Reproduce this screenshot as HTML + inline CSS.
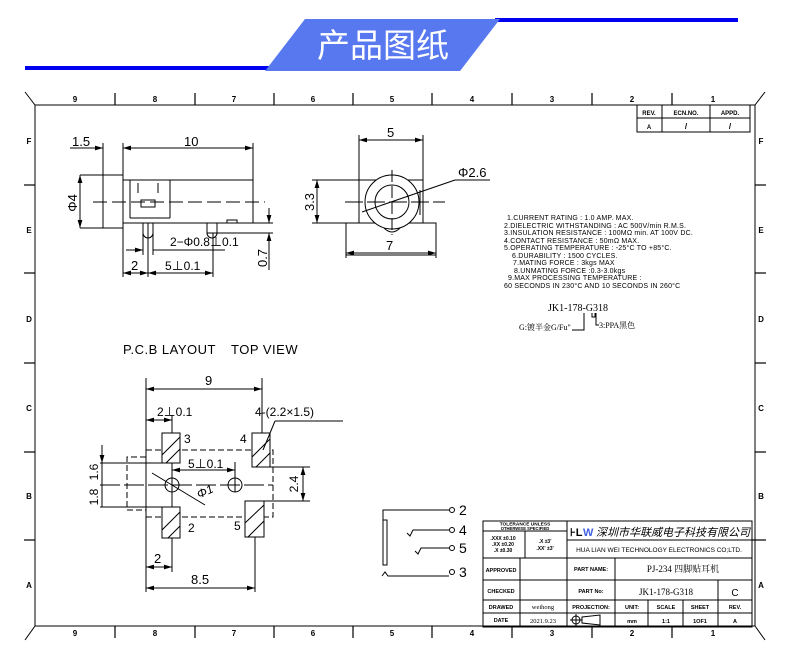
<!DOCTYPE html>
<html><head><meta charset="utf-8"><style>
html,body{margin:0;padding:0;background:#fff;}
svg{display:block;}
text{font-family:"Liberation Sans","Noto Sans CJK SC",sans-serif;fill:#000;}
.s{font-family:"Liberation Serif","Noto Serif CJK SC",serif;}
</style></head><body>
<svg width="790" height="663" viewBox="0 0 790 663" xmlns="http://www.w3.org/2000/svg">
<defs>
<marker id="a" viewBox="0 0 10 6" refX="10" refY="3" markerWidth="8" markerHeight="5" orient="auto-start-reverse"><path d="M0,0 L10,3 L0,6 z" fill="#000"/></marker>
</defs>
<!-- banner -->
<rect x="25" y="66" width="245" height="4" fill="#0000f0"/>
<rect x="495" y="18" width="243" height="4" fill="#0000f0"/>
<polygon points="305,19 500,19 460,71 265,71" fill="#5878f0"/>
<text x="383" y="57" font-size="33" text-anchor="middle" style="fill:#fff" font-family="Noto Sans CJK SC,sans-serif">产品图纸</text>

<g stroke="#000" fill="none" stroke-width="1">
<rect x="35" y="105" width="720" height="521"/>
<line x1="25" y1="92" x2="35" y2="105"/><line x1="765" y1="92" x2="755" y2="105"/>
<line x1="25" y1="640" x2="35" y2="626"/><line x1="765" y1="640" x2="755" y2="626"/>
<g stroke-width="1.2">
<line x1="115" y1="93" x2="115" y2="105"/><line x1="195" y1="93" x2="195" y2="105"/><line x1="274" y1="93" x2="274" y2="105"/><line x1="353" y1="93" x2="353" y2="105"/><line x1="432" y1="93" x2="432" y2="105"/><line x1="512" y1="93" x2="512" y2="105"/><line x1="592" y1="93" x2="592" y2="105"/><line x1="672" y1="93" x2="672" y2="105"/>
<line x1="115" y1="626" x2="115" y2="638"/><line x1="195" y1="626" x2="195" y2="638"/><line x1="274" y1="626" x2="274" y2="638"/><line x1="353" y1="626" x2="353" y2="638"/><line x1="432" y1="626" x2="432" y2="638"/><line x1="512" y1="626" x2="512" y2="638"/><line x1="592" y1="626" x2="592" y2="638"/><line x1="672" y1="626" x2="672" y2="638"/>
<line x1="24" y1="185" x2="35" y2="185"/><line x1="24" y1="273" x2="35" y2="273"/><line x1="24" y1="363" x2="35" y2="363"/><line x1="24" y1="452" x2="35" y2="452"/><line x1="24" y1="540" x2="35" y2="540"/>
<line x1="755" y1="185" x2="766" y2="185"/><line x1="755" y1="273" x2="766" y2="273"/><line x1="755" y1="363" x2="766" y2="363"/><line x1="755" y1="452" x2="766" y2="452"/><line x1="752" y1="540" x2="766" y2="540"/>
</g>
<rect x="637" y="105" width="113" height="27"/>
<line x1="637" y1="118" x2="750" y2="118"/><line x1="662" y1="105" x2="662" y2="132"/><line x1="710" y1="105" x2="710" y2="132"/>
</g>
<g font-size="8" font-weight="bold" text-anchor="middle">
<text x="75" y="102">9</text><text x="155" y="102">8</text><text x="234" y="102">7</text><text x="313" y="102">6</text><text x="392" y="102">5</text><text x="472" y="102">4</text><text x="552" y="102">3</text><text x="632" y="102">2</text><text x="713" y="102">1</text>
<text x="75" y="636">9</text><text x="155" y="636">8</text><text x="234" y="636">7</text><text x="313" y="636">6</text><text x="392" y="636">5</text><text x="472" y="636">4</text><text x="552" y="636">3</text><text x="632" y="636">2</text><text x="713" y="636">1</text>
<text x="29" y="144">F</text><text x="29" y="233">E</text><text x="29" y="322">D</text><text x="29" y="411">C</text><text x="29" y="499">B</text><text x="29" y="588">A</text>
<text x="761" y="144">F</text><text x="761" y="233">E</text><text x="761" y="322">D</text><text x="761" y="411">C</text><text x="761" y="499">B</text><text x="761" y="588">A</text>
<text x="649" y="115" font-size="6">REV.</text><text x="686" y="115" font-size="6">ECN.NO.</text><text x="730" y="115" font-size="6">APPD.</text>
<text x="649" y="129" font-size="6">A</text><text x="686" y="129">/</text><text x="730" y="129">/</text>
</g>

<!-- side view -->
<g stroke="#000" fill="none" stroke-width="1">
<rect x="103" y="175" width="20" height="53"/>
<rect x="123" y="180" width="130" height="43"/>
<line x1="123" y1="223" x2="273" y2="223"/>
<line x1="207" y1="233" x2="273" y2="233"/>
<line x1="130" y1="180" x2="130" y2="218"/><line x1="130" y1="218" x2="170" y2="218"/><line x1="170" y1="180" x2="170" y2="218"/>
<rect x="141" y="200" width="14" height="7"/>
<path d="M138 183 v10 M158 183 v10"/>
<path d="M143 223 v10 a5 5 0 0 0 10 0 v-10 M207 223 v10 a5 5 0 0 0 10 0 v-10"/>
<rect x="227" y="220" width="10" height="3"/>
<line x1="93" y1="202" x2="265" y2="202" stroke-dasharray="14,5"/>
<line x1="103" y1="143" x2="103" y2="175"/><line x1="123" y1="143" x2="123" y2="277"/><line x1="253" y1="143" x2="253" y2="180"/>
<line x1="70" y1="148" x2="103" y2="148" marker-end="url(#a)"/>
<line x1="123" y1="148" x2="253" y2="148" marker-start="url(#a)" marker-end="url(#a)"/>
<line x1="80" y1="175" x2="103" y2="175"/><line x1="80" y1="228" x2="103" y2="228"/>
<line x1="80" y1="175" x2="80" y2="228" marker-start="url(#a)" marker-end="url(#a)"/>
<line x1="143" y1="233" x2="143" y2="255"/><line x1="153" y1="233" x2="153" y2="255"/><line x1="148" y1="223" x2="148" y2="277"/><line x1="213" y1="233" x2="213" y2="277"/>
<line x1="126" y1="250" x2="143" y2="250" marker-end="url(#a)"/><line x1="153" y1="250" x2="225" y2="250"/>
<line x1="123" y1="273" x2="148" y2="273" marker-start="url(#a)" marker-end="url(#a)"/>
<line x1="148" y1="273" x2="213" y2="273" marker-start="url(#a)" marker-end="url(#a)"/>
<line x1="269" y1="208" x2="269" y2="223" marker-end="url(#a)"/><line x1="269" y1="233" x2="269" y2="270" marker-start="url(#a)"/>
<rect x="359" y="180" width="64" height="43"/>
<rect x="346" y="223" width="90" height="32" fill="#fff"/>
<circle cx="392" cy="202" r="27" fill="#fff"/><circle cx="392" cy="202" r="17"/>
<path d="M384 228 q8 8 16 0"/>
<line x1="420" y1="190" x2="420" y2="215"/>
<line x1="392" y1="170" x2="392" y2="235" stroke-dasharray="12,4"/>
<line x1="345" y1="202" x2="445" y2="202" stroke-dasharray="18,4"/>
<line x1="359" y1="135" x2="359" y2="180"/><line x1="423" y1="135" x2="423" y2="180"/>
<line x1="359" y1="140" x2="423" y2="140" marker-start="url(#a)" marker-end="url(#a)"/>
<line x1="312" y1="180" x2="359" y2="180"/><line x1="312" y1="223" x2="346" y2="223"/>
<line x1="317" y1="180" x2="317" y2="223" marker-start="url(#a)" marker-end="url(#a)"/>
<line x1="346" y1="255" x2="346" y2="258"/><line x1="436" y1="255" x2="436" y2="258"/>
<line x1="346" y1="253" x2="436" y2="253" marker-start="url(#a)" marker-end="url(#a)"/>
<line x1="362" y1="212" x2="455" y2="180"/><line x1="455" y1="180" x2="490" y2="180"/>
</g>
<g font-size="13">
<text x="72" y="146">1.5</text><text x="184" y="146">10</text>
<text transform="translate(77,203) rotate(-90)" text-anchor="middle">Φ4</text>
<text x="170" y="246" font-size="12">2−Φ0.8⊥0.1</text>
<text x="131" y="270">2</text><text x="165" y="270" font-size="12">5⊥0.1</text>
<text transform="translate(267,258) rotate(-90)" text-anchor="middle">0.7</text>
<text x="387" y="137">5</text><text x="386" y="250">7</text>
<text transform="translate(314,202) rotate(-90)" text-anchor="middle">3.3</text>
<text x="458" y="177">Φ2.6</text>
</g>

<g font-size="7" letter-spacing="0.2">
<text x="507" y="220">1.CURRENT RATING : 1.0 AMP. MAX.</text>
<text x="504" y="228">2.DIELECTRIC WITHSTANDING : AC 500V/min R.M.S.</text>
<text x="504" y="235">3.INSULATION RESISTANCE : 100MΩ min. AT 100V DC.</text>
<text x="504" y="243">4.CONTACT RESISTANCE : 50mΩ MAX.</text>
<text x="504" y="250">5.OPERATING TEMPERATURE : -25°C TO +85°C.</text>
<text x="512" y="258">6.DURABILITY : 1500 CYCLES.</text>
<text x="513" y="265">7.MATING FORCE : 3kgs MAX</text>
<text x="514" y="273">8.UNMATING FORCE :0.3-3.0kgs</text>
<text x="508" y="280">9.MAX PROCESSING TEMPERATURE :</text>
<text x="504" y="288">60 SECONDS IN 230°C AND 10 SECONDS IN 260°C</text>
</g>
<text class="s" x="548" y="311" font-size="10">JK1-178-G318</text>
<text class="s" x="519" y="330" font-size="8">G:镀半金G/Fu"</text>
<text class="s" x="599" y="328" font-size="8">3:PPA黑色</text>
<path d="M584 313 v17 h-12 M592 313 v4 h3 v-4 M596 313 v12 h3" stroke="#000" fill="none"/>

<text x="123" y="354" font-size="13" letter-spacing="0.5">P.C.B LAYOUT</text>
<text x="231" y="354" font-size="13" letter-spacing="0.5">TOP VIEW</text>
<g stroke="#000" fill="none" stroke-width="1">
<path d="M146 457 H127 V510 H146 M146 450 H273 V517 H146 M146 510 V517 M146 450 V457" stroke-dasharray="6,3"/>
<line x1="100" y1="485" x2="273" y2="485" stroke-dasharray="20,4"/>
<circle cx="172" cy="485" r="7"/><circle cx="235" cy="485" r="7"/>
<g fill="#fff">
<rect x="162" y="433" width="18" height="30"/><rect x="252" y="433" width="18" height="34"/>
<rect x="162" y="507" width="18" height="31"/><rect x="245" y="501" width="19" height="36"/>
</g>
<path d="M162 455 L180 437 M166 463 L180 449 M252 457 L270 439 M256 467 L270 453 M162 530 L180 512 M168 538 L180 526 M245 523 L264 505 M248 537 L264 521"/>
<line x1="146" y1="378" x2="146" y2="592"/><line x1="262" y1="378" x2="262" y2="433"/>
<line x1="146" y1="389" x2="262" y2="389" marker-start="url(#a)" marker-end="url(#a)"/>
<line x1="172" y1="415" x2="172" y2="433"/><line x1="172" y1="463" x2="172" y2="507"/><line x1="172" y1="538" x2="172" y2="572"/>
<line x1="146" y1="420" x2="172" y2="420" marker-start="url(#a)" marker-end="url(#a)"/>
<line x1="235" y1="462" x2="235" y2="492"/>
<line x1="172" y1="470" x2="235" y2="470" marker-start="url(#a)" marker-end="url(#a)"/>
<line x1="152" y1="473" x2="205" y2="505"/>
<line x1="100" y1="463" x2="162" y2="463"/><line x1="100" y1="507" x2="162" y2="507"/>
<line x1="102" y1="445" x2="102" y2="463" marker-end="url(#a)"/><line x1="102" y1="463" x2="102" y2="507"/>
<line x1="270" y1="467" x2="310" y2="467"/><line x1="264" y1="501" x2="310" y2="501"/>
<line x1="303" y1="467" x2="303" y2="501" marker-start="url(#a)" marker-end="url(#a)"/>
<line x1="263" y1="450" x2="275" y2="421"/><line x1="275" y1="421" x2="343" y2="421"/>
<line x1="146" y1="567" x2="172" y2="567" marker-start="url(#a)" marker-end="url(#a)"/>
<line x1="255" y1="537" x2="255" y2="592"/>
<line x1="146" y1="588" x2="255" y2="588" marker-start="url(#a)" marker-end="url(#a)"/>
</g>
<g font-size="12">
<text x="205" y="385" font-size="13">9</text>
<text x="157" y="416">2⊥0.1</text>
<text x="184" y="443">3</text><text x="240" y="443">4</text>
<text x="188" y="532">2</text><text x="234" y="530">5</text>
<text x="188" y="468">5⊥0.1</text>
<text x="197" y="497" font-style="italic" transform="rotate(-25 202 493)">Φ1</text>
<text x="255" y="416">4-(2.2×1.5)</text>
<text transform="translate(98,472) rotate(-90)" text-anchor="middle">1.6</text>
<text transform="translate(98,497) rotate(-90)" text-anchor="middle">1.8</text>
<text transform="translate(298,484) rotate(-90)" text-anchor="middle">2.4</text>
<text x="154" y="563" font-size="13">2</text>
<text x="191" y="584" font-size="13">8.5</text>
</g>

<g stroke="#000" fill="none">
<rect x="383" y="520" width="4" height="45"/>
<path d="M383 520 V510 H449 M407 533 L410 536 L413 530 H449 M415 551 L418 554 L421 548 H449 M382 576 L385 572 L388 576 H449"/>
<circle cx="452" cy="510" r="2.5"/><circle cx="452" cy="530" r="2.5"/><circle cx="452" cy="548" r="2.5"/><circle cx="452" cy="572" r="2.5"/>
</g>
<g font-size="14"><text x="459" y="515">2</text><text x="459" y="535">4</text><text x="459" y="553">5</text><text x="459" y="577">3</text></g>

<g stroke="#000" fill="none">
<rect x="483" y="521" width="269" height="106"/>
<line x1="483" y1="558" x2="752" y2="558"/><line x1="483" y1="580" x2="752" y2="580"/><line x1="483" y1="600" x2="752" y2="600"/><line x1="483" y1="613" x2="752" y2="613"/>
<line x1="567" y1="521" x2="567" y2="627"/><line x1="520" y1="558" x2="520" y2="627"/><line x1="615" y1="558" x2="615" y2="627"/>
<line x1="483" y1="531" x2="567" y2="531"/><line x1="525" y1="531" x2="525" y2="558"/>
<line x1="567" y1="540" x2="752" y2="540"/>
<line x1="648" y1="600" x2="648" y2="627"/><line x1="683" y1="600" x2="683" y2="627"/><line x1="718" y1="580" x2="718" y2="627"/>
</g>
<g font-size="5.5" font-weight="bold" text-anchor="middle">
<text x="525" y="525.5" font-size="4.8">TOLERANCE UNLESS</text><text x="525" y="530" font-size="4.2">OTHERWISE SPECIFIED</text>
<text x="503" y="540" font-size="5">.XXX ±0.10</text><text x="503" y="546" font-size="5">.XX ±0.20</text><text x="503" y="552" font-size="5">.X ±0.30</text>
<text x="545" y="543" font-size="5">.X  ±3'</text><text x="545" y="550" font-size="5">.XX' ±3'</text>
<text x="501" y="572">APPROVED</text><text x="501" y="593">CHECKED</text><text x="501" y="609">DRAWED</text><text x="501" y="622">DATE</text>
<text x="591" y="571">PART NAME:</text><text x="591" y="593">PART No:</text><text x="591" y="609">PROJECTION:</text>
<text x="632" y="609">UNIT:</text><text x="666" y="609">SCALE</text><text x="700" y="609">SHEET</text><text x="735" y="609">REV.</text>
<text x="632" y="623">mm</text><text x="666" y="623">1:1</text><text x="700" y="623">1OF1</text><text x="735" y="623">A</text>
<text x="659" y="552" font-weight="normal" font-size="6.5">HUA LIAN WEI TECHNOLOGY ELECTRONICS CO;LTD.</text>
</g>
<text x="543" y="609" font-size="6.5" text-anchor="middle" class="s">weihong</text>
<text x="543" y="623" font-size="6.5" text-anchor="middle" class="s">2021.9.23</text>
<text x="683" y="572" font-size="9" text-anchor="middle" class="s">PJ-234 四脚贴耳机</text>
<text x="666" y="595" font-size="9" text-anchor="middle" class="s">JK1-178-G318</text>
<text x="735" y="596" font-size="10" text-anchor="middle">C</text>
<text x="570" y="536" font-size="11" font-weight="bold">⊦L</text><text x="583" y="536" font-size="11" font-weight="bold" style="fill:#4060e0">W</text>
<text x="596" y="536" font-size="11" font-style="italic" font-family="Noto Sans CJK SC,sans-serif">深圳市华联威电子科技有限公司</text>
<g stroke="#000" fill="none"><circle cx="576" cy="620" r="4"/><path d="M570 620 h12 M576 614 v12 M582 617 l18 -2 v10 l-18 -2 z"/></g>
</svg>
</body></html>
